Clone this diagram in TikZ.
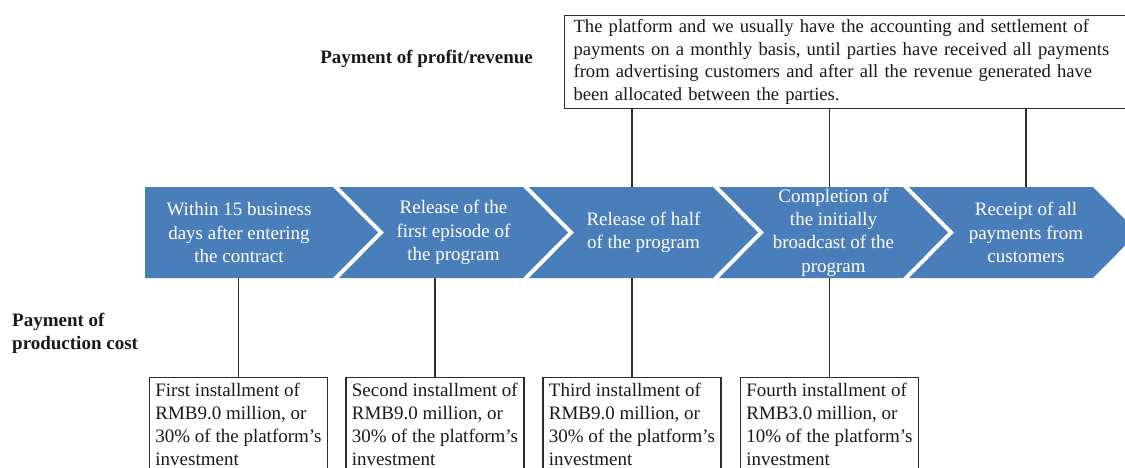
\documentclass[tikz,border=0pt]{standalone}
\usepackage{fontspec}
\setmainfont{Liberation Serif}
\definecolor{stageblue}{RGB}{74,126,187}
\definecolor{inkgray}{RGB}{45,45,45}
\begin{document}
\begin{tikzpicture}[x=1pt,y=-1pt,
  stagetext/.style={text=white, align=center, minimum height=91pt, inner sep=0pt,
    font=\fontsize{19}{23.3}\selectfont},
  notebox/.style={draw=inkgray, line width=1.2pt, text=black!90, align=left,
    font=\fontsize{19}{22.7}\selectfont},
  costbox/.style={notebox, anchor=north, minimum width=178pt, inner xsep=4pt, inner ysep=6pt},
  headline/.style={text=black!90, inner sep=0pt, font=\bfseries\fontsize{19}{23}\selectfont},
  conn/.style={draw=inkgray, line width=1.2pt}]
\useasboundingbox (0,0) rectangle (1125,467);

% timeline: a flat-tailed first stage, then four chevrons
\fill[stageblue] (145,187) -- (333,187) -- (378,232.5) -- (333,278) -- (145,278) -- cycle;
\foreach \k in {2,...,5} {
  \pgfmathsetmacro\xl{339+190*(\k-2)}
  \fill[stageblue] (\xl,187) -- ++(184,0) -- ++(45,45.5) -- ++(-45,45.5)
    -- ++(-184,0) -- ++(45,-45.5) -- cycle;
}

\node[stagetext] (c1) at (239,232.5) {Within 15 business\\days after entering\\the contract};
\node[stagetext] (c2) at (453.5,232.5) {Release of the\\first episode of\\the program};
\node[stagetext] (c3) at (643.5,232.5) {Release of half\\of the program};
\node[stagetext] (c4) at (833.5,232.5) {Completion of\\the initially\\broadcast of the\\program};
\node[stagetext] (c5) at (1026,232.5) {Receipt of all\\payments from\\customers};

% revenue settlement note
\node[notebox, anchor=north west, inner xsep=9pt, inner ysep=3.9pt, text width=550pt,
  font=\fontsize{18.6}{22.6}\selectfont] (rev) at (564,15)
  {The platform and we usually have the accounting and settlement of\\
   payments on a monthly basis, until parties have received all payments\\
   from advertising customers and after all the revenue generated have\\
   been allocated between the parties.};

% production cost installments
\node[costbox] (b1) at (238.5,377) {First installment of\\RMB9.0 million, or\\30\% of the platform's\\investment};
\node[costbox] (b2) at (435,377) {Second installment of\\RMB9.0 million, or\\30\% of the platform's\\investment};
\node[costbox] (b3) at (632,377) {Third installment of\\RMB9.0 million, or\\30\% of the platform's\\investment};
\node[costbox] (b4) at (829.5,377) {Fourth installment of\\RMB3.0 million, or\\10\% of the platform's\\investment};

% row headings
\node[headline, anchor=base east] (hrev) at (533,63) {Payment of profit/revenue};
\node[headline, anchor=north west, align=left] (hcost) at (12,313) {Payment of\\production cost};

% connectors
\foreach \k in {1,...,4} {
  \draw[conn] (b\k.north) -- (b\k.north |- c\k.south);
}
\draw[conn] (rev.south -| b3.north) -- (c3.north -| b3.north);
\draw[conn] (rev.south -| b4.north) -- (c4.north -| b4.north);
\draw[conn] (rev.south -| c5.north) -- (c5.north);
\end{tikzpicture}
\end{document}
